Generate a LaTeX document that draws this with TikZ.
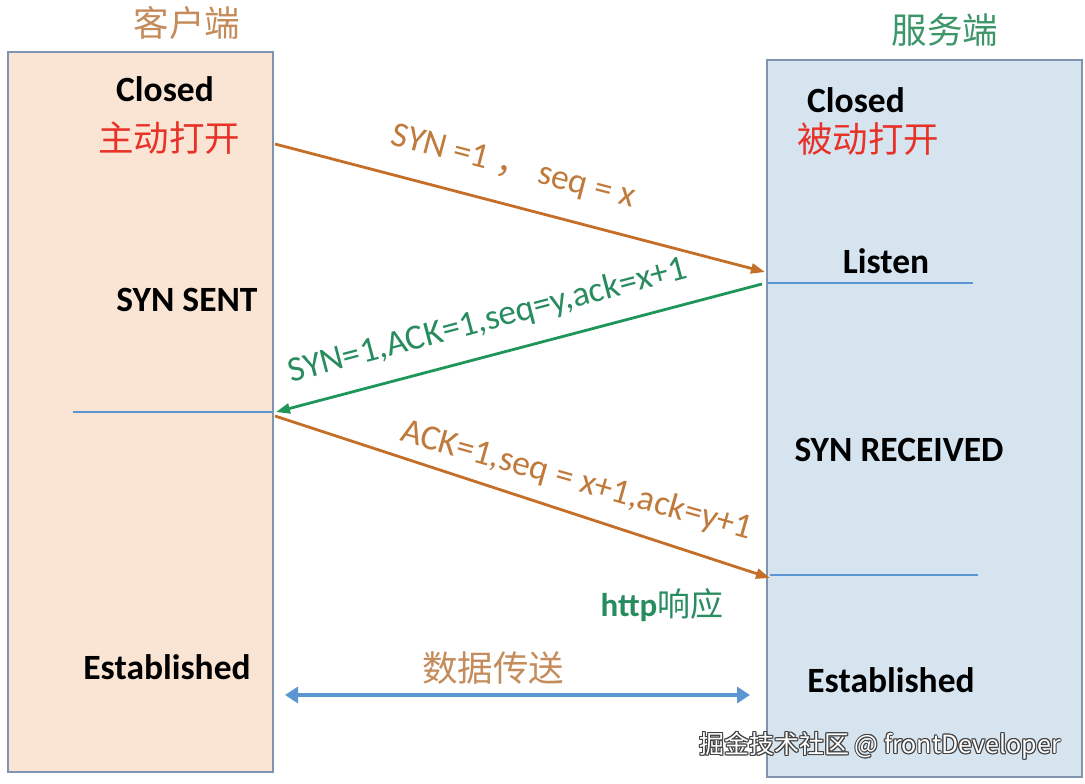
\documentclass[tikz,border=0pt]{standalone}
\usepackage{fontspec}
\setmainfont{Carlito}
\newfontfamily\cjk{Noto Sans CJK SC}
\usetikzlibrary{arrows.meta}
\definecolor{peach}{RGB}{250,228,212}
\definecolor{lblue}{RGB}{214,228,240}
\definecolor{boxedge}{RGB}{128,148,176}
\definecolor{arrorange}{RGB}{196,110,40}
\definecolor{txtorange}{RGB}{192,122,60}
\definecolor{titleorange}{RGB}{196,140,90}
\definecolor{arrgreen}{RGB}{30,150,90}
\definecolor{txtgreen}{RGB}{40,140,95}
\definecolor{titlegreen}{RGB}{60,150,105}
\definecolor{lineblue}{RGB}{91,150,210}
\definecolor{redtxt}{RGB}{232,50,40}
\tikzset{
  x=1pt,y=-1pt,
  hostbox/.style={draw=boxedge,line width=1.6pt},
  state/.style={font=\fontsize{35.5}{40}\selectfont\bfseries,text=black,inner sep=0pt},
  cn/.style={font=\cjk\fontsize{35.5}{40}\selectfont,inner sep=0pt},
  msg/.style={font=\fontsize{35.5}{40}\selectfont,inner sep=0pt,anchor=base},
  msgarrow/.style={line width=2.8pt,-{Triangle[length=14pt,width=10pt]}},
  tickline/.style={draw=lineblue,line width=1.8pt},
}
\begin{document}
\begin{tikzpicture}
\useasboundingbox[fill=white] (0,0) rectangle (1085,784);
% boxes
\fill[peach] (8,52) rectangle (273,772);
\draw[hostbox] (8,52) rectangle (273,772);
\fill[lblue] (767,60) rectangle (1082,777);
\draw[hostbox] (767,60) rectangle (1082,777);
% titles
\node[cn,text=titleorange] (tc) at (187,23) {客户端};
\node[cn,text=titlegreen] (ts) at (945,30) {服务端};
% client states
\node[state,anchor=base] (cclosed) at (165,102) {Closed};
\node[cn,text=redtxt] (copen) at (169,138) {主动打开};
\node[state,anchor=base] (csent) at (187,311) {SYN SENT};
\node[state,anchor=base] (cest) at (167,679) {Established};
% server states
\node[state,anchor=base] (sclosed) at (856,112) {Closed};
\node[cn,text=redtxt] (sopen) at (868,139) {被动打开};
\node[state,anchor=base] (slisten) at (886,273) {Listen};
\node[state,anchor=base] (srecv) at (899,461) {SYN RECEIVED};
\node[state,anchor=base] (sest) at (891,692) {Established};
\node[anchor=base,inner sep=0pt,text=txtgreen] (http) at (662,616) {\fontsize{33}{38}\selectfont\bfseries http{\cjk\mdseries 响应}};
% timeline marks
\coordinate (l1a) at (767,283); \coordinate (l1b) at (973,283);
\coordinate (l2a) at (73,412);  \coordinate (l2b) at (273,412);
\coordinate (l3a) at (770,575); \coordinate (l3b) at (978,575);
\draw[tickline] (l1a) -- (l1b);
\draw[tickline] (l2a) -- (l2b);
\draw[tickline] (l3a) -- (l3b);
% messages
\coordinate (m1s) at (275,144); \coordinate (m1e) at (765,272);
\coordinate (m2s) at (762,284); \coordinate (m2e) at (276,412);
\coordinate (m3s) at (275,416); \coordinate (m3e) at (770,578);
\draw[msgarrow,arrorange] (m1s) -- (m1e);
\draw[msgarrow,arrgreen] (m2s) -- (m2e);
\draw[msgarrow,arrorange] (m3s) -- (m3e);
\node[msg,text=txtorange,rotate=-14.7] (lab1) at (511,176) {SYN =1 {\cjk ，}\ seq = x};
\node[msg,text=txtgreen,rotate=14.8] (lab2) at (490,330) {SYN=1,ACK=1,seq=y,ack=x+1};
\node[msg,text=txtorange,rotate=-15.8] (lab3) at (574,490) {ACK=1,seq = x+1,ack=y+1};
% data transfer
\node[cn,text=titleorange] (data) at (493,668) {数据传送};
\coordinate (d1) at (285,695); \coordinate (d2) at (750,695);
\draw[draw=lineblue,line width=4.5pt,{Triangle[length=13pt,width=16pt]}-{Triangle[length=13pt,width=16pt]}] (d1) -- (d2);
% watermark
\foreach \dx/\dy in {-1/0,1/0,0/-1,0/1,-0.8/-0.8,0.8/0.8,-0.8/0.8,0.8/-0.8}
  \node[font=\cjk\fontsize{25}{30}\selectfont,text=black!75,inner sep=0pt] at (880+\dx,746+\dy) {掘金技术社区 @ frontDeveloper};
\node[font=\cjk\fontsize{25}{30}\selectfont,text=white,inner sep=0pt] (wm) at (880,746) {掘金技术社区 @ frontDeveloper};
\end{tikzpicture}
\end{document}
